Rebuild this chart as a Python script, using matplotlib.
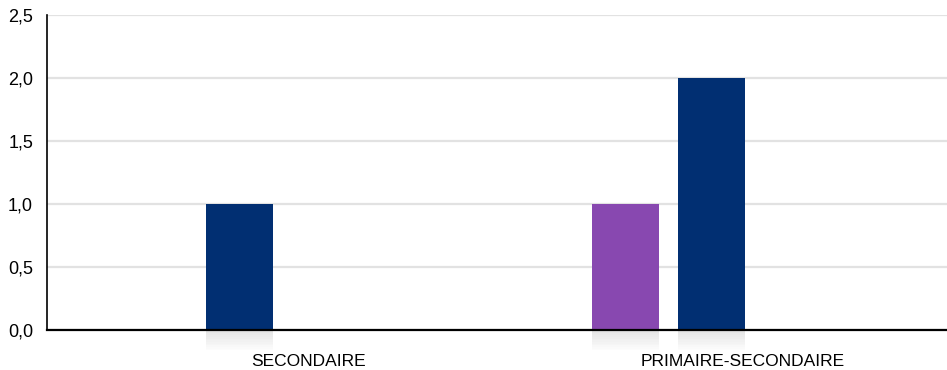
import numpy as np
import matplotlib.pyplot as plt

plt.rcParams['font.family'] = ['Liberation Sans', 'DejaVu Sans']

# data
categories = ['SECONDAIRE', 'PRIMAIRE-SECONDAIRE']
purple_vals = [0, 1]
navy_vals = [1, 2]
yticks = [0.0, 0.5, 1.0, 1.5, 2.0, 2.5]

purple_col = '#8848b0'
navy_col = '#012f72'

fig = plt.figure(figsize=(9.47, 3.7), dpi=100)
ax = fig.add_axes([47 / 947, 40 / 370, 900 / 947, 315 / 370])

x = np.arange(len(categories))
w = 0.1555
# bar offsets from the category label (zero bars are not drawn)
purple_off = [-0.35, -0.27]
navy_off = [-0.159, -0.072]


def draw_bar(xc, h, col):
    if h == 0:
        return
    ax.bar(xc, h, width=w, color=col, zorder=3)
    # soft shadow under the axis
    n = 12
    for k in range(n):
        y0 = -0.0135 * k
        ax.add_patch(plt.Rectangle((xc - w / 2, y0 - 0.0135), w, 0.0135,
                                   color='#c8c8c8', alpha=0.5 * (1 - k / n),
                                   lw=0, clip_on=False, zorder=1))


for i in range(len(categories)):
    draw_bar(x[i] + purple_off[i], purple_vals[i], purple_col)
    draw_bar(x[i] + navy_off[i], navy_vals[i], navy_col)

ax.set_xlim(-0.6025, 1.471)
ax.set_ylim(0, 2.5)
ax.set_yticks(yticks)
ax.set_yticklabels([f'{v:.1f}'.replace('.', ',') for v in yticks], fontsize=13)
ax.set_xticks(x)
ax.set_xticklabels(categories, fontsize=12.5)
ax.tick_params(axis='x', length=0, pad=17)
ax.tick_params(axis='y', length=0, pad=10)

ax.grid(axis='y', color='#e2e2e2', lw=1.6, zorder=0)
ax.set_axisbelow(True)
for s in ['top', 'right']:
    ax.spines[s].set_visible(False)
ax.spines['left'].set_linewidth(1.2)
ax.spines['bottom'].set_linewidth(1.6)
ax.spines['bottom'].set_zorder(4)

plt.savefig('out.png', dpi=100)
